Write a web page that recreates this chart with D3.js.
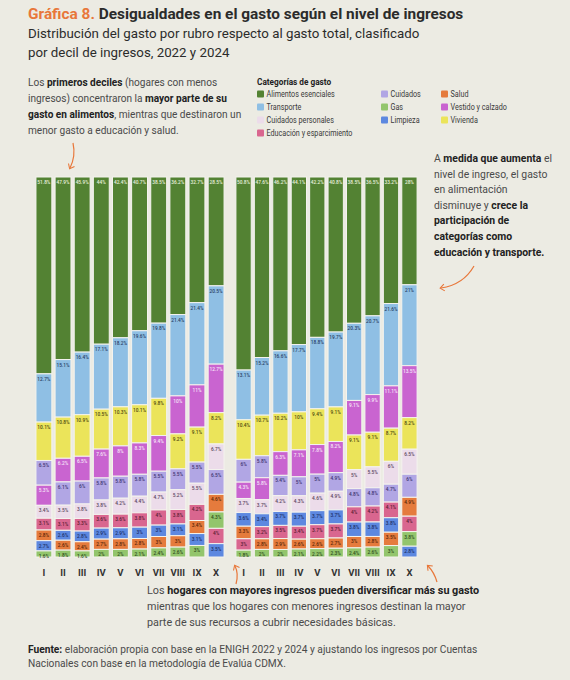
<!DOCTYPE html>
<html>
<head>
<meta charset="utf-8">
<script src="https://cdn.jsdelivr.net/npm/d3@7"></script>
<style>
  body { margin: 0; background: #ecebe3; }
  svg { display: block; font-family: Roboto, "Open Sans", sans-serif; }
</style>
</head>
<body>
<div id="chart"></div>
<script>
// Categorías (orden de la leyenda, por columnas)
const categories = [
  "Alimentos esenciales", "Transporte", "Cuidados personales", "Educación y esparcimiento",
  "Cuidados", "Gas", "Limpieza",
  "Salud", "Vestido y calzado", "Vivienda"
];
const colors = {
  "Alimentos esenciales": "#538233",
  "Transporte": "#8fbfe4",
  "Cuidados personales": "#ecdcea",
  "Educación y esparcimiento": "#d9668f",
  "Cuidados": "#b1a6e4",
  "Gas": "#93c56c",
  "Limpieza": "#5d88e0",
  "Salud": "#e57b3d",
  "Vestido y calzado": "#c964d0",
  "Vivienda": "#ebe45a"
};
const labelColors = {
  "Alimentos esenciales": "#e9f0df",
  "Transporte": "#2a3f66",
  "Cuidados personales": "#5a4660",
  "Educación y esparcimiento": "#5a1d33",
  "Cuidados": "#3e3470",
  "Gas": "#2f4d1c",
  "Limpieza": "#1c2f66",
  "Salud": "#5a2608",
  "Vestido y calzado": "#f6e6f8",
  "Vivienda": "#4f4a10"
};
// orden cuando dos rubros empatan
const tieOrder = [
  "Alimentos esenciales", "Transporte", "Cuidados", "Vestido y calzado", "Vivienda",
  "Cuidados personales", "Limpieza", "Educación y esparcimiento", "Salud", "Gas"
];

const deciles = ["I", "II", "III", "IV", "V", "VI", "VII", "VIII", "IX", "X"];

// 2022, por decil I..X
const alimentos22  = [51.8, 47.9, 45.9, 44, 42.4, 40.7, 38.5, 36.2, 32.7, 28.5];
const transporte22 = [12.7, 15.1, 16.4, 17.1, 18.2, 19.6, 19.8, 21.4, 21.4, 20.5];
const vivienda22   = [10.1, 10.8, 10.9, 10.5, 10.3, 10.1, 9.8, 9.2, 9.1, 8.2];
const vestido22    = [5.3, 6.2, 6.5, 7.6, 8, 8.3, 9.4, 10, 11, 12.7];
const cuidados22   = [6.5, 6.1, 6, 5.8, 5.8, 5.8, 5.5, 5.5, 5.5, 6.5];
const cuidPers22   = [3.4, 3.5, 3.8, 3.8, 4.2, 4.4, 4.7, 5.2, 5.5, 6.7];
const educacion22  = [3.1, 3.1, 3.3, 3.6, 3.6, 3.8, 4, 3.8, 4.2, 4];
const salud22      = [2.8, 2.6, 2.4, 2.7, 2.8, 2.8, 3, 3, 3.4, 4.6];
const limpieza22   = [2.7, 2.6, 2.8, 2.9, 2.9, 3, 3, 3.1, 3.1, 3.5];
const gas22        = [1.6, 1.8, 1.6, 2, 2, 2.1, 2.4, 2.6, 3, 4.3];

// 2024, por decil I..X
const alimentos24  = [50.8, 47.6, 46.2, 44.1, 42.2, 40.8, 38.5, 36.5, 33.2, 28];
const transporte24 = [13.1, 15.2, 16.6, 17.7, 18.8, 19.7, 20.3, 20.7, 21.6, 21];
const vivienda24   = [10.4, 10.7, 10.2, 10, 9.4, 9.1, 9.1, 9.1, 8.7, 8.2];
const vestido24    = [4.3, 5.8, 6.3, 7.1, 7.8, 8.2, 9.1, 9.9, 11.1, 13.5];
const cuidados24   = [6, 5.8, 5.4, 5, 5, 4.9, 4.8, 4.8, 4.7, 6];
const cuidPers24   = [3.7, 3.7, 4.2, 4.3, 4.6, 4.9, 5, 5.5, 6, 6.5];
const educacion24  = [3, 3.2, 3.5, 3.4, 3.7, 3.7, 4, 4.2, 4.1, 4];
const salud24      = [3.3, 2.8, 2.9, 2.6, 2.6, 2.7, 3, 2.8, 3.5, 4.9];
const limpieza24   = [3.6, 3.4, 3.7, 3.7, 3.7, 3.7, 3.8, 3.8, 3.8, 2.8];
const gas24        = [1.8, 2, 2, 2.1, 2.2, 2.3, 2.4, 2.6, 3, 3.8];

const series22 = {
  "Alimentos esenciales": alimentos22, "Transporte": transporte22, "Vivienda": vivienda22,
  "Vestido y calzado": vestido22, "Cuidados": cuidados22, "Cuidados personales": cuidPers22,
  "Educación y esparcimiento": educacion22, "Salud": salud22, "Limpieza": limpieza22, "Gas": gas22
};
const series24 = {
  "Alimentos esenciales": alimentos24, "Transporte": transporte24, "Vivienda": vivienda24,
  "Vestido y calzado": vestido24, "Cuidados": cuidados24, "Cuidados personales": cuidPers24,
  "Educación y esparcimiento": educacion24, "Salud": salud24, "Limpieza": limpieza24, "Gas": gas24
};

const W = 570, H = 680;
const ink = "#2b2b2b", orange = "#e8773a";

const svg = d3.select("#chart").append("svg")
    .attr("width", W).attr("height", H);

svg.append("rect").attr("width", W).attr("height", H).attr("fill", "#ecebe3");

// arrow marker
svg.append("defs").append("marker")
    .attr("id", "arr").attr("viewBox", "0 0 10 10")
    .attr("refX", 5).attr("refY", 5)
    .attr("markerWidth", 7).attr("markerHeight", 7)
    .attr("orient", "auto-start-reverse")
  .append("path")
    .attr("d", "M1,1 L6,5 L1,9")
    .attr("fill", "none").attr("stroke", orange).attr("stroke-width", 1.3);

// Title
const title = svg.append("text").attr("x", 28).attr("y", 19)
    .attr("font-size", 15.4).attr("font-weight", 700).attr("fill", ink);
title.append("tspan").attr("fill", orange).text("Gráfica 8. ");
title.append("tspan").text("Desigualdades en el gasto según el nivel de ingresos");

svg.selectAll(".sub")
  .data(["Distribución del gasto por rubro respecto al gasto total, clasificado",
         "por decil de ingresos, 2022 y 2024"])
  .join("text")
    .attr("x", 28).attr("y", (d, i) => 38 + i * 18.5)
    .attr("font-size", 13.3).attr("fill", ink)
    .text(d => d);

// rich text helper: lines of [text, bold]
function richText(x, y, lh, size, lines) {
  const t = svg.append("text").attr("font-size", size).attr("fill", "#3a3a3a");
  lines.forEach((segs, i) => {
    segs.forEach(([txt, b], j) => {
      const ts = t.append("tspan").text(txt).attr("font-weight", b ? 700 : 400)
          .attr("fill", b ? "#222" : "#4a4a4a");
      if (j === 0) ts.attr("x", x).attr("y", y + i * lh);
    });
  });
}

richText(28, 86, 16, 10.1, [
  [["Los ", 0], ["primeros deciles", 1], [" (hogares con menos", 0]],
  [["ingresos) concentraron la ", 0], ["mayor parte de su", 1]],
  [["gasto en alimentos", 1], [", mientras que destinaron un", 0]],
  [["menor gasto a educación y salud.", 0]]
]);

richText(434, 162, 15.6, 10.4, [
  [["A ", 0], ["medida que aumenta", 1], [" el", 0]],
  [["nivel de ingreso, el gasto", 0]],
  [["en alimentación", 0]],
  [["disminuye y ", 0], ["crece la", 1]],
  [["participación de", 1]],
  [["categorías como", 1]],
  [["educación y transporte.", 1]]
]);

richText(147, 594, 16, 10.8, [
  [["Los ", 0], ["hogares con mayores ingresos pueden diversificar más su gasto", 1]],
  [["mientras que los hogares con menores ingresos destinan la mayor", 0]],
  [["parte de sus recursos a cubrir necesidades básicas.", 0]]
]);

richText(28, 653, 14, 10.2, [
  [["Fuente:", 1], [" elaboración propia con base en la ENIGH 2022 y 2024 y ajustando los ingresos por Cuentas", 0]],
  [["Nacionales con base en la metodología de Evalúa CDMX.", 0]]
]);

// arrows
const arrows = [
  "M73,143 C75,152 74,160 70,168",
  "M474,266 C466,280 455,286 441,288",
  "M236,584 C238,577 238,572 235,566",
  "M437,582 C435,575 432,570 428,566"
];
svg.selectAll(".arrow").data(arrows).join("path")
    .attr("d", d => d).attr("fill", "none")
    .attr("stroke", orange).attr("stroke-width", 1.2)
    .attr("marker-end", "url(#arr)");

// Legend (texto algo condensado, como el original)
svg.append("text").attr("transform", "translate(257,85) scale(0.86,1)")
    .attr("font-size", 9.6).attr("font-weight", 700).attr("fill", "#222")
    .text("Categorías de gasto");
const legendCols = [[0, 1, 2, 3], [4, 5, 6], [7, 8, 9]];
const colX = [257, 381, 441];
legendCols.forEach((col, ci) => {
  const g = svg.append("g").selectAll("g").data(col.map(i => categories[i])).join("g")
      .attr("transform", (d, i) => `translate(${colX[ci]},${97 + i * 13})`);
  g.append("rect").attr("x", 0).attr("y", -6.5).attr("width", 7).attr("height", 7)
      .attr("rx", 1).attr("fill", d => colors[d]);
  g.append("text").attr("transform", "translate(9.5,0) scale(0.82,1)")
      .attr("font-size", 8.8).attr("fill", "#3a3a3a").text(d => d);
});

// Charts
const y = d3.scaleLinear().domain([0, 100]).range([557, 177]);

function drawChart(series, x0, x1) {
  const x = d3.scaleBand().domain(deciles).range([x0, x1]).paddingInner(0.17).paddingOuter(0.05);
  const g = svg.append("g");

  deciles.forEach((dec, di) => {
    const items = categories.map(c => ({ cat: c, v: series[c][di] }));
    const total = d3.sum(items, d => d.v);
    items.sort((a, b) => (b.v - a.v) || (tieOrder.indexOf(a.cat) - tieOrder.indexOf(b.cat)));
    const yb = d3.scaleLinear().domain([0, total]).range([y(100), y(0)]);
    let acc = 0;
    items.forEach(d => { d.t = acc; acc += d.v; d.b = acc; });

    const bar = g.append("g");
    bar.selectAll("rect").data(items).join("rect")
        .attr("x", x(dec)).attr("width", x.bandwidth())
        .attr("y", d => yb(d.t)).attr("height", d => yb(d.b) - yb(d.t))
        .attr("fill", d => colors[d.cat])
        .attr("stroke", "#f4f3ee").attr("stroke-width", 1);
    bar.selectAll("text").data(items).join("text")
        .attr("x", x(dec) + x.bandwidth() / 2)
        .attr("y", d => yb(d.t) + 7)
        .attr("text-anchor", "middle")
        .attr("font-size", 4.8)
        .attr("font-weight", 500)
        .attr("fill", d => labelColors[d.cat])
        .text(d => d3.format("~r")(d.v) + "%");
  });

  const ax = g.append("g").attr("transform", "translate(0,557)")
      .call(d3.axisBottom(x).tickSize(0).tickPadding(12));
  ax.select(".domain").remove();
  ax.selectAll("text").attr("font-size", 9.5).attr("font-weight", 700).attr("fill", "#333")
      .attr("font-family", "Roboto, sans-serif");
}

drawChart(series22, 35, 225);
drawChart(series24, 235, 418);
</script>
</body>
</html>
